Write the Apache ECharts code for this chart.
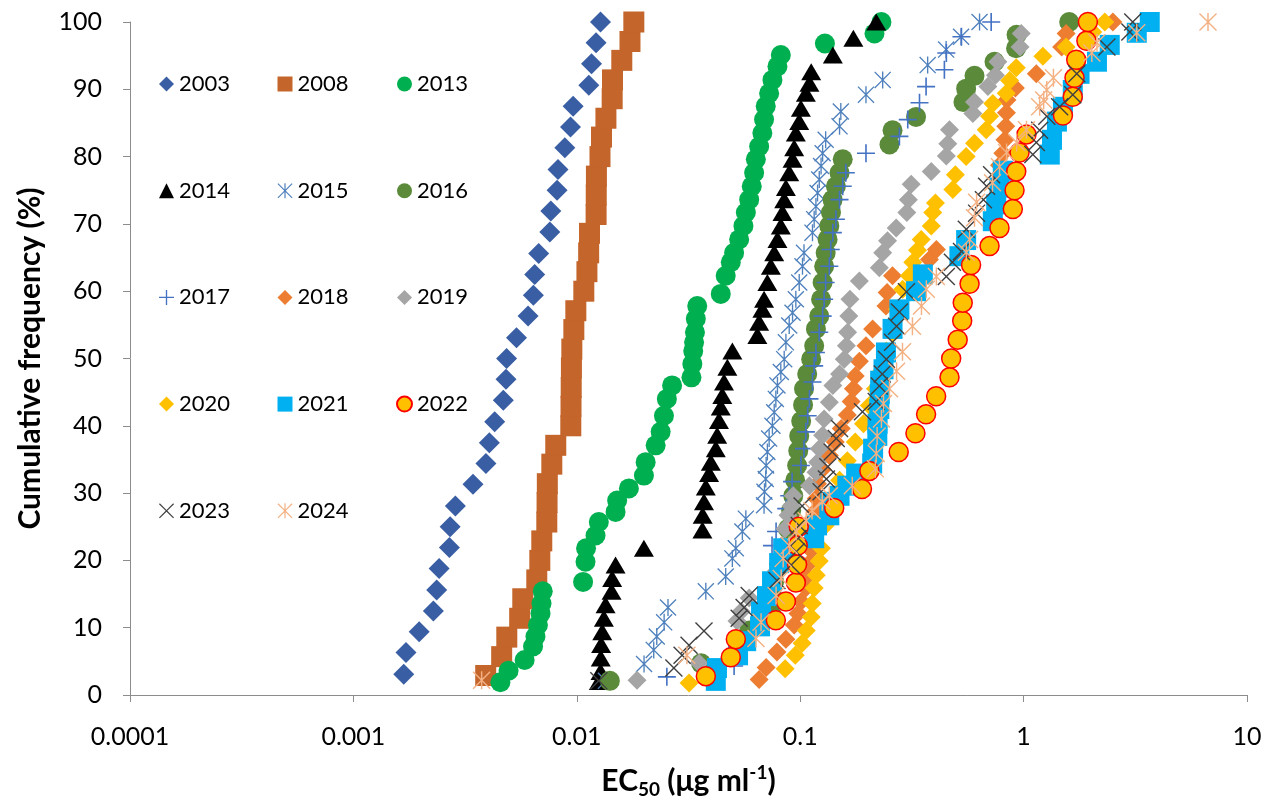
<!DOCTYPE html>
<html>
<head>
<meta charset="utf-8">
<script src="https://cdn.jsdelivr.net/npm/echarts@6/dist/echarts.min.js"></script>
<style>
  html, body { margin: 0; padding: 0; background: #ffffff; }
  #chart { width: 1266px; height: 804px; }
</style>
</head>
<body>
<div id="chart"></div>
<script>
// EC50 values (µg/ml) and cumulative frequency (%) of isolates, one pair of arrays per year
const x2003 = [0.00168,0.00172,0.00197,0.00228,0.00236,0.00242,0.00269,0.00271,0.00286,0.00343,0.00392,0.00406,0.00429,0.00469,0.00482,0.00485,0.00537,0.00605,0.00639,0.00648,0.00675,0.00757,0.00765,0.00816,0.00824,0.00884,0.00937,0.00963,0.01132,0.01164,0.0122,0.01277];
const y2003 = [3.1,6.3,9.4,12.5,15.6,18.8,21.9,25,28.1,31.3,34.4,37.5,40.6,43.8,46.9,50,53.1,56.3,59.4,62.5,65.6,68.8,71.9,75,78.1,81.3,84.4,87.5,90.6,93.8,96.9,100];

const x2008 = [0.00391,0.00461,0.00486,0.00555,0.00573,0.00662,0.00683,0.00697,0.00734,0.00736,0.00738,0.00773,0.00805,0.0094,0.00942,0.00944,0.00946,0.0095,0.0097,0.0099,0.01075,0.0111,0.0113,0.0114,0.0122,0.01222,0.01224,0.0127,0.0129,0.0135,0.0144,0.01445,0.0159,0.0173,0.018];
const y2008 = [2.9,5.7,8.6,11.4,14.3,17.1,20,22.9,25.7,28.6,31.4,34.3,37.1,40,42.9,45.7,48.6,51.4,54.3,57.1,60,62.9,65.7,68.6,71.4,74.3,77.1,80,82.9,85.7,88.6,91.4,94.3,97.1,100];

const x2013 = [0.00455,0.00495,0.00584,0.00637,0.00653,0.0067,0.00688,0.00695,0.00704,0.01067,0.01094,0.0110,0.01213,0.01255,0.01491,0.01516,0.01711,0.01997,0.02033,0.02254,0.02373,0.02455,0.0253,0.0267,0.0326,0.0329,0.0332,0.0335,0.0338,0.0341,0.0346,0.0441,0.0464,0.0489,0.0506,0.0533,0.0557,0.0571,0.0591,0.0607,0.0622,0.0633,0.0655,0.0677,0.0689,0.0701,0.0726,0.0751,0.0791,0.0819,0.129,0.215,0.231];
const y2013 = [1.9,3.6,5.2,7.2,8.7,10.4,12.1,13.6,15.4,16.8,19.8,21.8,23.7,25.7,27.2,28.9,30.7,32.6,34.6,37.1,39.1,41.5,44,46,47.2,49.2,51.1,52.4,53.9,55.9,57.8,59.6,62.3,64.3,65.7,67.7,69.7,71.7,73.6,75.6,77.6,79.6,81.5,83.5,85.5,87.5,89.4,91.4,93.4,95.1,96.8,98.3,100];

const x2014 = [0.01255,0.01277,0.0128,0.01285,0.013,0.01322,0.01345,0.01431,0.0144,0.01491,0.01997,0.0365,0.0366,0.0371,0.0378,0.0391,0.0398,0.0419,0.0425,0.0433,0.0441,0.0448,0.0456,0.0472,0.0497,0.0643,0.0655,0.0677,0.0689,0.0713,0.0739,0.0765,0.0791,0.0819,0.0833,0.0848,0.0863,0.0893,0.0924,0.094,0.0956,0.099,0.1007,0.106,0.110,0.112,0.140,0.173,0.219];
const y2014 = [2.0,3.5,5.5,7.5,9.4,11.4,13.4,15.4,17.3,19.3,21.8,24.5,26.7,28.7,30.9,32.9,34.6,36.6,38.6,40.8,42.8,44.5,46.5,48.7,51.1,53.4,55.4,57.3,58.8,61.3,63.7,65.7,67.7,69.7,71.7,73.6,75.4,77.6,79.6,81.3,83.5,85.2,87.2,89.4,90.9,92.6,95.1,97.6,100];

const x2015 = [0.0135,0.0200,0.0221,0.0228,0.0246,0.0256,0.0378,0.0464,0.0497,0.0515,0.0551,0.0571,0.0689,0.0692,0.0701,0.0704,0.0713,0.0726,0.0751,0.0765,0.0778,0.0791,0.0819,0.0848,0.0863,0.0893,0.0924,0.0956,0.099,0.1024,0.104,0.1135,0.1155,0.1176,0.1196,0.1217,0.124,0.126,0.130,0.150,0.152,0.197,0.234,0.372,0.450,0.525,0.635];
const y2015 = [2.1,4.6,6.7,8.7,10.8,13.0,15.4,17.6,20.3,21.8,24.3,26.2,28.2,30.2,32.1,34.1,36.1,38.1,40.0,42.0,44.0,46.0,48.0,49.9,52.4,54.9,56.8,58.8,61.3,63.7,65.7,68.7,70.7,72.6,74.6,76.6,78.6,80.5,82.5,84.5,86.7,89.2,91.4,93.6,95.9,97.8,100];

const x2016 = [0.01406,0.036,0.0591,0.0745,0.0757,0.0765,0.0805,0.0848,0.0882,0.0911,0.0931,0.095,0.0969,0.098,0.099,0.101,0.103,0.104,0.1075,0.112,0.1155,0.1176,0.1217,0.124,0.126,0.128,0.130,0.1326,0.135,0.1373,0.1396,0.1445,0.150,0.155,0.251,0.259,0.330,0.538,0.553,0.603,0.741,0.925,0.93,1.60];
const y2016 = [2.1,4.7,9.6,11.9,14.4,16.9,19.4,21.8,24.7,27.4,29.6,31.9,34.1,36.3,38.5,40.7,43.1,45.5,47.7,49.9,51.9,54.4,56.3,58.8,61.3,63.7,65.7,67.7,69.7,71.7,73.6,75.6,77.6,79.6,81.8,83.9,85.9,88.1,90.1,92.0,94.1,96.1,98.1,100];

const x2017 = [0.0253,0.0506,0.0748,0.078,0.0866,0.0893,0.092,0.1007,0.104,0.106,0.108,0.110,0.1135,0.1155,0.1176,0.1217,0.126,0.128,0.130,0.135,0.137,0.140,0.1445,0.150,0.155,0.160,0.197,0.278,0.303,0.342,0.366,0.442,0.451,0.527,0.716];
const y2017 = [2.7,4.3,22.2,24.3,27.7,29.6,31.7,34.1,36.6,39.1,41.5,44.0,46.5,48.9,50.9,53.9,56.3,58.8,61.3,63.7,66.2,68.7,70.7,73.6,75.6,77.6,80.5,83.0,85.5,88.0,90.4,92.9,95.4,97.8,100];

const x2018 = [0.0655,0.0704,0.0787,0.0863,0.094,0.0977,0.101,0.106,0.107,0.110,0.112,0.114,0.116,0.117,0.118,0.1195,0.1255,0.135,0.1435,0.1527,0.1625,0.169,0.173,0.1764,0.184,0.197,0.211,0.242,0.245,0.259,0.379,0.407,0.78,0.807,0.825,0.832,0.838,0.842,0.919,1.14,1.48,1.55,2.51];
const y2018 = [2.3,4.1,6.4,8.3,10.4,12.1,13.9,15.9,17.6,19.6,21.5,23.3,25.2,27.3,29.2,31.4,33.5,35.6,37.6,39.6,41.6,43.6,45.5,47.4,49.6,51.9,54.4,57.8,59.8,62.3,64.7,66.2,78.7,80.5,82.5,84.5,86.5,88.4,90.2,92.3,96.3,98.3,100];

const x2019 = [0.0186,0.0353,0.0521,0.0544,0.0591,0.078,0.0805,0.0829,0.0856,0.0882,0.0911,0.0931,0.110,0.1176,0.1196,0.1217,0.126,0.128,0.135,0.140,0.150,0.1575,0.161,0.163,0.165,0.167,0.184,0.226,0.234,0.246,0.269,0.300,0.305,0.314,0.386,0.451,0.458,0.466,0.593,0.603,0.692,0.748,0.767,0.964,0.976];
const y2019 = [2.2,4.7,11.0,12.4,14.4,18.4,20.3,22.2,24.7,26.7,28.1,29.6,31.1,33.1,34.6,36.6,38.6,41.0,43.5,46.0,47.7,49.9,51.9,53.9,56.3,58.8,61.5,63.5,65.7,67.5,69.4,71.7,73.6,75.9,77.8,80.1,81.9,84.0,86.4,88.1,90.4,92.1,94.1,96.3,98.3];

const x2020 = [0.0318,0.0856,0.095,0.102,0.1064,0.112,0.1132,0.1155,0.118,0.1217,0.1244,0.1295,0.139,0.150,0.1625,0.1764,0.192,0.204,0.217,0.231,0.243,0.259,0.272,0.2875,0.308,0.319,0.335,0.348,0.386,0.392,0.403,0.482,0.495,0.553,0.603,0.680,0.704,0.728,0.836,0.866,0.927,1.22,1.55,2.04,2.31];
const y2020 = [1.8,3.9,5.9,7.7,9.6,11.6,13.6,15.9,17.8,19.9,21.8,25.2,28.4,31.9,34.8,37.6,40.3,43.0,45.5,48.1,51.1,53.9,57.3,60.3,62.3,64.3,66.1,67.7,69.7,71.7,73.1,75.1,77.3,80.0,82.0,84.0,86.0,87.9,89.4,91.3,93.2,94.9,96.3,98.5,100];

const x2021 = [0.0419,0.0424,0.0527,0.0573,0.0661,0.0668,0.0710,0.0748,0.0805,0.0839,0.1155,0.119,0.135,0.1363,0.150,0.1625,0.178,0.210,0.212,0.2214,0.222,0.226,0.227,0.228,0.236,0.242,0.259,0.278,0.330,0.354,0.516,0.553,0.728,0.754,0.780,0.807,1.31,1.34,1.41,1.50,1.66,1.78,2.13,2.43,3.21,3.67];
const y2021 = [2.1,4.0,5.9,8.0,10.2,12.4,14.7,16.9,19.6,21.8,23.3,25.2,26.7,28.7,29.6,31.1,32.9,34.4,36.6,38.5,40.3,42.5,44.7,46.7,48.4,50.9,54.4,57.3,60.0,62.5,65.2,67.6,70.4,72.9,75.4,77.9,80.3,82.5,85.2,87.4,89.9,92.3,94.1,96.6,98.4,100];

const x2022 = [0.0378,0.0489,0.0515,0.0778,0.0863,0.0956,0.0968,0.0975,0.0985,0.142,0.189,0.204,0.276,0.328,0.366,0.406,0.466,0.474,0.507,0.531,0.534,0.573,0.582,0.704,0.780,0.895,0.911,0.927,0.959,1.03,1.50,1.66,1.69,1.72,1.91,1.94];
const y2022 = [2.8,5.6,8.3,11.1,13.9,16.7,19.4,22.2,25,27.8,30.6,33.3,36.1,38.9,41.7,44.4,47.2,50,52.8,55.6,58.3,61.1,63.9,66.7,69.4,72.2,75,77.8,80.6,83.3,86.1,88.9,91.7,94.4,97.2,100];

const x2023 = [0.01255,0.0272,0.0296,0.0318,0.0371,0.0533,0.0561,0.0591,0.0787,0.0911,0.096,0.098,0.099,0.102,0.124,0.131,0.133,0.139,0.145,0.150,0.190,0.219,0.226,0.233,0.243,0.259,0.270,0.278,0.299,0.451,0.480,0.527,0.554,0.616,0.661,0.683,0.719,1.10,1.14,1.18,1.27,1.45,1.66,1.73,2.36,2.99,3.08];
const y2023 = [2.1,4.0,5.9,7.4,9.5,11.4,13.0,14.8,17.0,19.3,21.3,23.3,25.2,28.1,30.2,32.1,33.9,36.1,38.1,39.6,42.1,43.6,45.9,47.7,49.9,52.4,54.8,56.9,59.9,62.2,64.3,65.9,69.2,71.6,73.6,75.6,77.3,80.3,82.1,83.9,86.0,87.4,89.2,92.3,96.3,98.5,100];

const x2024 = [0.00375,0.0311,0.0634,0.0668,0.078,0.0822,0.0839,0.0893,0.096,0.1064,0.113,0.1255,0.135,0.171,0.217,0.219,0.221,0.231,0.236,0.251,0.270,0.287,0.318,0.349,0.367,0.407,0.554,0.573,0.603,0.616,0.726,0.780,0.839,0.931,1.03,1.18,1.23,1.27,1.36,2.02,2.13,3.21,6.69];
const y2024 = [2.2,5.9,8.4,10.8,14.8,17.3,20.3,22.2,24.3,25.9,27.4,28.7,29.6,31.1,33.6,35.9,38.5,41.0,43.3,45.5,48.1,51.0,54.8,57.8,60.3,62.2,65.8,67.7,70.9,73.2,76.1,78.5,80.6,82.1,84.0,87.4,88.4,89.9,91.7,95.4,96.9,98.4,100];

// Axis tick values and legend layout (three columns)
const xTicks = [0.0001, 0.001, 0.01, 0.1, 1, 10];
const legendColumns = [
  ['2003', '2014', '2017', '2020', '2023'],
  ['2008', '2015', '2018', '2021', '2024'],
  ['2013', '2016', '2019', '2022']
];

// Line-style marker shapes drawn as thin filled outlines
const PLUS = 'path://M9.1,0H10.9V9.1H20V10.9H10.9V20H9.1V10.9H0V9.1H9.1Z';
const CROSS = 'path://M0,1.1L1.1,0L10,8.9L18.9,0L20,1.1L11.1,10L20,18.9L18.9,20L10,11.1L1.1,20L0,18.9L8.9,10Z';
const STAR = 'path://M0,1.1L1.1,0L10,8.9L18.9,0L20,1.1L11.1,10L20,18.9L18.9,20L10,11.1L1.1,20L0,18.9L8.9,10Z M9.2,0H10.8V20H9.2Z';

const FONT = 'Lato, "Open Sans", "DejaVu Sans", sans-serif';

const years = [
  { name: '2003', xs: x2003, ys: y2003, symbol: 'diamond', size: 21, color: '#3a5ea3' },
  { name: '2008', xs: x2008, ys: y2008, symbol: 'rect', size: 21, color: '#c4652b' },
  { name: '2013', xs: x2013, ys: y2013, symbol: 'circle', size: 20, color: '#00b050' },
  { name: '2014', xs: x2014, ys: y2014, symbol: 'triangle', size: [20, 17], color: '#000000' },
  { name: '2015', xs: x2015, ys: y2015, symbol: STAR, size: 17, color: '#4f81bd' },
  { name: '2016', xs: x2016, ys: y2016, symbol: 'circle', size: 20, color: '#5a8a3a' },
  { name: '2017', xs: x2017, ys: y2017, symbol: PLUS, size: 18, color: '#4472c4' },
  { name: '2018', xs: x2018, ys: y2018, symbol: 'diamond', size: 19, color: '#ed7d31' },
  { name: '2019', xs: x2019, ys: y2019, symbol: 'diamond', size: 19, color: '#a5a5a5' },
  { name: '2020', xs: x2020, ys: y2020, symbol: 'diamond', size: 19, color: '#ffc000' },
  { name: '2021', xs: x2021, ys: y2021, symbol: 'rect', size: 20, color: '#00b0f0' },
  { name: '2022', xs: x2022, ys: y2022, symbol: 'circle', size: 19, color: '#ffc000', border: '#ff0000' },
  { name: '2023', xs: x2023, ys: y2023, symbol: CROSS, size: 18, color: '#404040' },
  { name: '2024', xs: x2024, ys: y2024, symbol: STAR, size: 18, color: '#f4b183' }
];

const series = years.map(function (s) {
  return {
    name: s.name,
    type: 'scatter',
    symbol: s.symbol,
    symbolSize: s.size,
    itemStyle: s.border
      ? { color: s.color, borderColor: s.border, borderWidth: 1.5, opacity: 1 }
      : { color: s.color, opacity: 1 },
    emphasis: { disabled: true },
    data: s.xs.map(function (x, i) { return [x, s.ys[i]]; })
  };
});

const legendLeft = [154, 272.5, 391];
const legends = legendColumns.map(function (col, i) {
  return {
    orient: 'vertical',
    left: legendLeft[i],
    top: 67,
    itemWidth: 15,
    itemHeight: 15,
    itemGap: 82.7,
    selectedMode: false,
    data: col,
    textStyle: { fontFamily: FONT, fontSize: 22, color: '#000000', lineHeight: 24 }
  };
});

const axisGray = '#8c8c8c';

const option = {
  backgroundColor: '#ffffff',
  animation: false,
  grid: { left: 130, right: 19, top: 22, bottom: 107, containLabel: false },
  legend: legends,
  xAxis: {
    type: 'log',
    logBase: 10,
    min: xTicks[0],
    max: xTicks[xTicks.length - 1],
    axisLine: { onZero: false, lineStyle: { color: axisGray, width: 1 } },
    axisTick: { length: 7, lineStyle: { color: axisGray } },
    splitLine: { show: false },
    axisLabel: {
      margin: 29,
      fontFamily: FONT,
      fontSize: 25,
      color: '#000000',
      formatter: function (v) { return String(+Number(v).toPrecision(3)); }
    },
    name: '{a|EC}{s|50}{a| (μg ml}{p|-1}{a|)}',
    nameLocation: 'middle',
    nameGap: 68,
    nameTextStyle: {
      color: '#000000',
      fontFamily: FONT,
      fontWeight: 'bold',
      rich: {
        a: { fontFamily: FONT, fontWeight: 'bold', fontSize: 30, lineHeight: 36, verticalAlign: 'middle', color: '#000' },
        s: { fontFamily: FONT, fontWeight: 'bold', fontSize: 19, lineHeight: 18, verticalAlign: 'bottom', color: '#000' },
        p: { fontFamily: FONT, fontWeight: 'bold', fontSize: 19, lineHeight: 18, verticalAlign: 'top', color: '#000' }
      }
    }
  },
  yAxis: {
    type: 'value',
    min: 0,
    max: 100,
    interval: 10,
    axisLine: { show: true, onZero: false, lineStyle: { color: axisGray, width: 1 } },
    axisTick: { show: true, length: 7, lineStyle: { color: axisGray } },
    splitLine: { show: false },
    axisLabel: { margin: 28, fontFamily: FONT, fontSize: 25, color: '#000000' },
    name: 'Cumulative frequency (%)',
    nameLocation: 'middle',
    nameGap: 85,
    nameTextStyle: { fontFamily: FONT, fontWeight: 'bold', fontSize: 30, color: '#000000' }
  },
  series: series
};

const chart = echarts.init(document.getElementById('chart'), null, { renderer: 'canvas' });
chart.setOption(option);
</script>
</body>
</html>
